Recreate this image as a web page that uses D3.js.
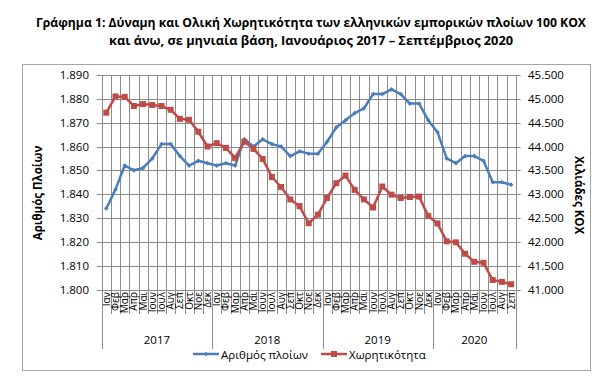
<!DOCTYPE html>
<html>
<head>
<meta charset="utf-8">
<script src="https://cdnjs.cloudflare.com/ajax/libs/d3/7.8.5/d3.min.js"></script>
<style>
  body { margin: 0; background: #fff; }
  text { font-family: "Open Sans", "Noto Sans", sans-serif; fill: #000; }
</style>
</head>
<body>
<svg id="chart" width="611" height="390"></svg>
<script>
// data
var years = ["2017", "2018", "2019", "2020"];
var monthNames = ["Ιαν", "Φεβ", "Μαρ", "Απρ", "Μαι", "Ιουν", "Ιουλ", "Αυγ", "Σεπ", "Οκτ", "Νοε", "Δεκ"];
var monthsPerYear = [12, 12, 12, 9];

var ships = [1834, 1842, 1852, 1850, 1851, 1855, 1861, 1861, 1856, 1852, 1854, 1853,
             1852, 1853, 1852, 1863, 1860, 1863, 1861, 1860, 1856, 1858, 1857, 1857,
             1862, 1868, 1871, 1874, 1876, 1882, 1882, 1884, 1882, 1878, 1878, 1871,
             1866, 1855, 1853, 1856, 1856, 1854, 1845, 1845, 1844];

var capacity = [44710, 45050, 45040, 44850, 44890, 44870, 44850, 44770, 44580, 44560, 44310, 44000,
                44070, 43970, 43760, 44100, 43950, 43740, 43360, 43150, 42890, 42750, 42390, 42570,
                42920, 43230, 43390, 43090, 42890, 42720, 43160, 42990, 42920, 42940, 42950, 42540,
                42385, 42010, 41990, 41750, 41580, 41560, 41200, 41160, 41110];

var leftTicks = [1800, 1810, 1820, 1830, 1840, 1850, 1860, 1870, 1880, 1890];
var rightTicks = [41000, 41500, 42000, 42500, 43000, 43500, 44000, 44500, 45000, 45500];

var blue = "#4a7ebb", red = "#be4b48";
var gridColor = "#8c8c8c";

var months = [];
years.forEach(function(y, yi){
  for (var m = 0; m < monthsPerYear[yi]; m++) months.push({ year: y, label: monthNames[m] });
});

var svg = d3.select("#chart");
var pLeft = 101.7, pRight = 515.7, pTop = 75, pBottom = 289.5;

var fmt = function(v){ return d3.format(",")(v).replace(/,/g, "."); };

// outer frame
svg.append("rect")
  .attr("x", 22.5).attr("y", 64.5).attr("width", 568).attr("height", 306)
  .attr("fill", "none").attr("stroke", "#a6a6a6");

// title
svg.append("text").attr("x", 311).attr("y", 27).attr("text-anchor", "middle")
  .attr("font-size", "13px").attr("font-weight", "bold")
  .attr("textLength", 550).attr("lengthAdjust", "spacingAndGlyphs")
  .text("Γράφημα 1: Δύναμη και Ολική Χωρητικότητα των ελληνικών εμπορικών πλοίων 100 ΚΟΧ");
svg.append("text").attr("x", 311).attr("y", 45).attr("text-anchor", "middle")
  .attr("font-size", "13px").attr("font-weight", "bold")
  .attr("textLength", 404).attr("lengthAdjust", "spacingAndGlyphs")
  .text("και άνω, σε μηνιαία βάση, Ιανουάριος 2017 – Σεπτέμβριος 2020");

var x = d3.scaleBand().domain(d3.range(months.length)).range([pLeft, pRight]).padding(0);
var cx = function(i){ return x(i) + x.bandwidth() / 2; };
var yL = d3.scaleLinear().domain([1800, 1890]).range([pBottom, pTop]);
var yR = d3.scaleLinear().domain([41000, 45500]).range([pBottom, pTop]);

// vertical gridlines at month boundaries
svg.append("g").selectAll("line")
  .data(d3.range(months.length + 1))
  .enter().append("line")
    .attr("x1", d => Math.round(pLeft + d * x.bandwidth()) + 0.5)
    .attr("x2", d => Math.round(pLeft + d * x.bandwidth()) + 0.5)
    .attr("y1", pTop).attr("y2", 314)
    .attr("stroke", gridColor).attr("stroke-width", 1);

// horizontal gridlines
svg.append("g").selectAll("line")
  .data(leftTicks)
  .enter().append("line")
    .attr("x1", pLeft - 5).attr("x2", pRight + 5)
    .attr("y1", d => Math.round(yL(d)) + 0.5)
    .attr("y2", d => Math.round(yL(d)) + 0.5)
    .attr("stroke", gridColor).attr("stroke-width", 1);

// left axis labels
svg.append("g").selectAll("text")
  .data(leftTicks)
  .enter().append("text")
    .attr("x", 89).attr("y", d => yL(d) + 4)
    .attr("text-anchor", "end").attr("font-size", "11.5px")
    .text(fmt);

// right axis labels
svg.append("g").selectAll("text")
  .data(rightTicks)
  .enter().append("text")
    .attr("x", 528).attr("y", d => yR(d) + 4)
    .attr("font-size", "11.5px")
    .text(fmt);

// axis titles
svg.append("text").attr("transform", "translate(42,193) rotate(-90)")
  .attr("text-anchor", "middle").attr("font-size", "11.5px").attr("font-weight", "bold")
  .text("Αριθμός Πλοίων");
svg.append("text").attr("transform", "translate(575,195) rotate(90)")
  .attr("text-anchor", "middle").attr("font-size", "11.5px").attr("font-weight", "bold")
  .text("Χιλιάδες ΚΟΧ");

// month labels
svg.append("g").selectAll("text")
  .data(months)
  .enter().append("text")
    .attr("transform", (d, i) => "translate(" + (cx(i) + 3.5) + ",292) rotate(-90)")
    .attr("text-anchor", "end").attr("font-size", "10px")
    .text(d => d.label);

// year separators and labels
var start = 0, bounds = [0];
monthsPerYear.forEach(function(n){ start += n; bounds.push(start); });
svg.append("g").selectAll("line")
  .data(bounds)
  .enter().append("line")
    .attr("x1", d => Math.round(pLeft + d * x.bandwidth()) + 0.5)
    .attr("x2", d => Math.round(pLeft + d * x.bandwidth()) + 0.5)
    .attr("y1", pBottom).attr("y2", 349)
    .attr("stroke", gridColor);
svg.append("g").selectAll("text")
  .data(years)
  .enter().append("text")
    .attr("x", (d, i) => pLeft + (bounds[i] + bounds[i + 1]) / 2 * x.bandwidth())
    .attr("y", 343.5).attr("text-anchor", "middle").attr("font-size", "11.5px")
    .text(d => d);

// series
var lineL = d3.line().x((d, i) => cx(i)).y(d => yL(d));
var lineR = d3.line().x((d, i) => cx(i)).y(d => yR(d));

svg.append("path").datum(ships)
  .attr("d", lineL).attr("fill", "none").attr("stroke", blue).attr("stroke-width", 2.5)
  .attr("stroke-linejoin", "round");
svg.append("g").selectAll("path")
  .data(ships)
  .enter().append("path")
    .attr("d", d3.symbol().type(d3.symbolDiamond2).size(14))
    .attr("transform", (d, i) => "translate(" + cx(i) + "," + yL(d) + ")")
    .attr("fill", blue);

svg.append("path").datum(capacity)
  .attr("d", lineR).attr("fill", "none").attr("stroke", red).attr("stroke-width", 2.5)
  .attr("stroke-linejoin", "round");
svg.append("g").selectAll("rect")
  .data(capacity)
  .enter().append("rect")
    .attr("x", (d, i) => cx(i) - 3).attr("y", d => yR(d) - 3)
    .attr("width", 6).attr("height", 6)
    .attr("fill", red);

// legend
var legend = svg.append("g");
legend.append("line").attr("x1", 193).attr("x2", 219).attr("y1", 354).attr("y2", 354)
  .attr("stroke", blue).attr("stroke-width", 2.5);
legend.append("path").attr("d", d3.symbol().type(d3.symbolDiamond2).size(14))
  .attr("transform", "translate(206,354)").attr("fill", blue);
legend.append("text").attr("x", 221).attr("y", 358.5).attr("font-size", "11.5px").text("Αριθμός πλοίων");
legend.append("line").attr("x1", 321).attr("x2", 347).attr("y1", 354).attr("y2", 354)
  .attr("stroke", red).attr("stroke-width", 2.5);
legend.append("rect").attr("x", 331).attr("y", 351).attr("width", 6).attr("height", 6).attr("fill", red);
legend.append("text").attr("x", 349).attr("y", 358.5).attr("font-size", "11.5px").text("Χωρητικότητα");
</script>
</body>
</html>
